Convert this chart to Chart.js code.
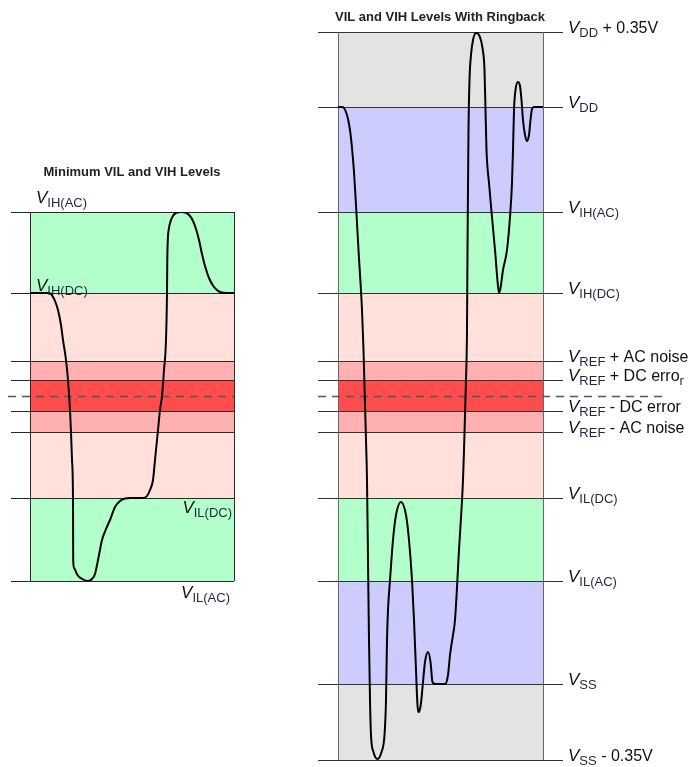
<!DOCTYPE html>
<html><head><meta charset="utf-8">
<script src="https://cdn.jsdelivr.net/npm/chart.js@4.4.1/dist/chart.umd.min.js"></script>
<style>
html,body{margin:0;padding:0;background:#fff;}
#wrap{position:relative;width:690px;height:767px;overflow:hidden;}
canvas{position:absolute;left:0;top:0;}
</style></head><body>
<div id="wrap"><canvas id="leftChart" width="690" height="767"></canvas><canvas id="rightChart" width="690" height="767"></canvas></div>
<script>
// ---- data (arbitrary voltage units, VSS - 0.35V = 0) ----
const levelNames  = ['VSS-0.35V','VSS','VIL(AC)','VIL(DC)','VREF-AC','VREF-DC','VREF+DC','VREF+AC','VIH(DC)','VIH(AC)','VDD','VDD+0.35V'];
const levelValues = [0, 76, 179, 262, 328, 349, 380, 399, 467, 548, 653, 728];
const vrefValue = 364;
const bandColors = ['#e3e3e3','#ccccff','#b3ffcc','#ffe0da','#ffb0b0','#ff4d4d','#ffb0b0','#ffe0da','#b3ffcc','#ccccff','#e3e3e3'];

const leftTime = [0,18,21,23,25,28,31,33,36,38,40,41,42,43,43.1,43.2,44.1,47.4,52.3,58,62,65,67,69,72,76,80,85,90,95,100,113,117,120,123,125,128,130,132,134,136,137,137.3,137.8,139,141,144,148,152,156,160,163,166,169,172,175,179,184,190,197,204];
const leftVolt = [467,467,466,463,459,450,435,420,400,380,350,328,300,260,230,200,192,185,181,179,181,186,195,205,220,231,240,253,259,261.5,262,262,264,270,280,300,330,350,364,390,420,467,500,520,532,540,545.5,547.7,548,547.2,544,539,531,520,506,494,482,473,468,467,467];

const rightTime = [0,4,6,8,10,12,14,16,18,20.5,24,25.5,28,29,30,31,32,33,35.5,39.5,43.5,46.5,48,49,50,52,55,58,63,68,71,74,76,78,79.5,81,83,85,87,90,92.5,94.5,97,107,110,112,115,117,121,125,126,128,129,129.5,130,130.5,131.5,133,135,138,141.5,144.5,146.5,147.5,148.5,151,154,157,159.7,161,162.5,165,169,172,174,175,176,177.5,180,182,183.5,185,187,189,191,192.5,194,196,205];
const rightVolt = [653,653,652,648,641,630,612,588,555,510,450,410,320,280,200,120,60,25,8,1,8,25,60,120,150,180,220,245,258,245,220,180,140,90,55,48,57,78,98,108,98,78,76,76,85,105,125,140,210,280,310,380,430,510,570,630,680,705,720,727,724,712,690,650,610,577,543,510,477,467,472,490,510,543,577,610,650,670,678,674,660,640,625,619,625,640,651,653,653];

const leftTitle = 'Minimum VIL and VIH Levels';
const rightTitle = 'VIL and VIH Levels With Ringback';

// label texts: [text, kind] kind: v = italic V, s = subscript, n = normal
const leftLabels = {
  'VIH(AC)': [['V','v'],['IH(AC)','s']],
  'VIH(DC)': [['V','v'],['IH(DC)','s']],
  'VIL(DC)': [['V','v'],['IL(DC)','s']],
  'VIL(AC)': [['V','v'],['IL(AC)','s']]
};
const rightLabels = {
  'VDD+0.35V': [['V','v'],['DD','s'],[' + 0.35V','n']],
  'VDD': [['V','v'],['DD','s']],
  'VIH(AC)': [['V','v'],['IH(AC)','s']],
  'VIH(DC)': [['V','v'],['IH(DC)','s']],
  'VREF+AC': [['V','v'],['REF','s'],[' + AC noise','n']],
  'VREF+DC': [['V','v'],['REF','s'],[' + DC erro','n'],['r','s']],
  'VREF-DC': [['V','v'],['REF','s'],[' - DC error','n']],
  'VREF-AC': [['V','v'],['REF','s'],[' - AC noise','n']],
  'VIL(DC)': [['V','v'],['IL(DC)','s']],
  'VIL(AC)': [['V','v'],['IL(AC)','s']],
  'VSS': [['V','v'],['SS','s']],
  'VSS-0.35V': [['V','v'],['SS','s'],[' - 0.35V','n']]
};

// ---- drawing helpers ----
const FONTS = {v:'italic 17px "Liberation Sans", Arial, sans-serif', s:'13px "Liberation Sans", Arial, sans-serif', n:'16px "Liberation Sans", Arial, sans-serif'};
const SHIFT = {v:0, s:4, n:0};
const COLORS = {v:'#111', s:'#1e2740', n:'#111'};
function drawParts(ctx, parts, x, baseline, align){
  let total = 0;
  const widths = parts.map(p => { ctx.font = FONTS[p[1]]; const w = ctx.measureText(p[0]).width; total += w; return w; });
  let cx = align === 'right' ? x - total : x;
  ctx.textAlign = 'left'; ctx.textBaseline = 'alphabetic';
  parts.forEach((p,i) => {
    ctx.font = FONTS[p[1]]; ctx.fillStyle = COLORS[p[1]];
    ctx.fillText(p[0], cx, baseline + SHIFT[p[1]]);
    cx += widths[i];
  });
}

const levelPlugin = {
  id: 'levels',
  beforeDatasetsDraw(chart, args, o){
    const {ctx, chartArea: a} = chart; const y = chart.scales.y;
    ctx.save();
    ctx.beginPath(); ctx.rect(a.left, a.top, a.right - a.left, a.bottom - a.top); ctx.clip();
    for (let i = 0; i < levelValues.length - 1; i++){
      const top = y.getPixelForValue(levelValues[i+1]), bot = y.getPixelForValue(levelValues[i]);
      ctx.fillStyle = bandColors[i];
      ctx.fillRect(a.left, top, a.right - a.left, bot - top);
    }
    ctx.restore();
    ctx.save();
    ctx.strokeStyle = o.lineColor; ctx.lineWidth = 1;
    levelValues.forEach(v => {
      if (v < y.min - 0.01 || v > y.max + 0.01) return;
      const py = Math.round(y.getPixelForValue(v)) + 0.5;
      ctx.beginPath(); ctx.moveTo(a.left + o.lineStart, py); ctx.lineTo(a.right + o.lineEnd, py); ctx.stroke();
    });
    // VREF dashed
    const pv = Math.round(y.getPixelForValue(vrefValue)) + 0.5;
    ctx.strokeStyle = '#555'; ctx.lineWidth = 1.5; ctx.setLineDash([8,6]);
    ctx.beginPath(); ctx.moveTo(a.left + o.dashStart, pv); ctx.lineTo(a.right + o.dashEnd, pv); ctx.stroke();
    ctx.setLineDash([]);
    // box verticals
    ctx.strokeStyle = o.boxColor; ctx.lineWidth = 1;
    [a.left, a.right].forEach(x => { const px = Math.round(x) + 0.5; ctx.beginPath(); ctx.moveTo(px, a.top); ctx.lineTo(px, a.bottom); ctx.stroke(); });
    ctx.restore();
  },
  afterDatasetsDraw(chart, args, o){
    const {ctx, chartArea: a} = chart; const y = chart.scales.y;
    ctx.save();
    o.labels.forEach(l => {
      const idx = levelNames.indexOf(l.level);
      const py = Math.round(y.getPixelForValue(levelValues[idx]));
      const x = l.align === 'right' ? a.right + l.dx : (l.from === 'right' ? a.right + l.dx : a.left + l.dx);
      drawParts(ctx, o.texts[l.level], x, py + l.dy, l.align);
    });
    ctx.font = 'bold 13px "Liberation Sans", Arial, sans-serif';
    ctx.fillStyle = '#222'; ctx.textAlign = 'center'; ctx.textBaseline = 'middle';
    ctx.fillText(o.title, o.titleX, o.titleY);
    ctx.restore();
  }
};

function makeChart(id, time, volt, yMin, yMax, xMax, padding, opts){
  return new Chart(document.getElementById(id), {
    type: 'line',
    data: { datasets: [{ data: time.map((t,i) => ({x:t, y:volt[i]})), borderColor:'#000', borderWidth:2, pointRadius:0, fill:false, cubicInterpolationMode:'monotone' }] },
    options: {
      responsive:false, animation:false, devicePixelRatio:1, events:[],
      layout:{ padding },
      scales:{ x:{type:'linear', min:0, max:xMax, display:false}, y:{type:'linear', min:yMin, max:yMax, display:false} },
      plugins:{ legend:{display:false}, tooltip:{enabled:false}, title:{display:false}, levels: opts }
    },
    plugins:[levelPlugin]
  });
}

makeChart('leftChart', leftTime, leftVolt, 179, 548, 204, {left:30, right:456, top:212, bottom:186}, {
  lineColor:'#2a2a2a', lineStart:-19, lineEnd:0, dashStart:-22, dashEnd:0, boxColor:'#2a2a2a',
  title:leftTitle, titleX:132, titleY:172, texts:leftLabels,
  labels:[
    {level:'VIH(AC)', dx:6, dy:-9, align:'left'},
    {level:'VIH(DC)', dx:6, dy:-2, align:'left'},
    {level:'VIL(DC)', dx:-2, dy:15, align:'right'},
    {level:'VIL(AC)', dx:-4, dy:17, align:'right'}
  ]
});

makeChart('rightChart', rightTime, rightVolt, 0, 728, 205, {left:338, right:147, top:32, bottom:7}, {
  lineColor:'#333', lineStart:-20, lineEnd:20, dashStart:-20, dashEnd:120, boxColor:'#666',
  title:rightTitle, titleX:440, titleY:17, texts:rightLabels,
  labels: Object.keys(rightLabels).map(k => ({level:k, dx:25, dy:1, align:'left', from:'right'}))
});
</script>
</body></html>
